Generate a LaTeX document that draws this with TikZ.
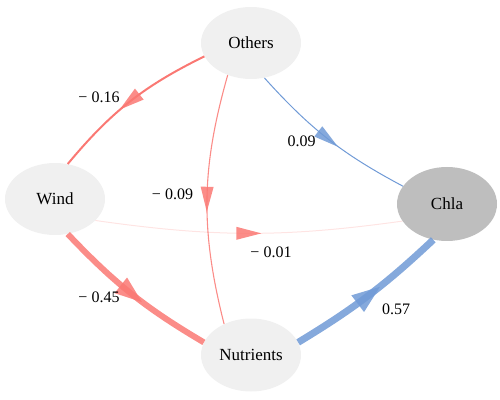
\documentclass[tikz,border=0pt]{standalone}
\usepackage{fontspec}
\setmainfont{Liberation Serif}
\newfontfamily\timesfont{Liberation Serif}
\usetikzlibrary{shapes.geometric,decorations.markings}
\definecolor{ered}{RGB}{250,120,115}
\definecolor{eblue}{RGB}{112,154,214}
\definecolor{nodegray}{RGB}{240,240,240}
\definecolor{chlagray}{RGB}{190,190,190}
\tikzset{
  var/.style={ellipse, fill=nodegray, minimum width=100pt, minimum height=72pt, inner sep=0pt, font=\timesfont\fontsize{17}{20}\selectfont},
  coef/.style={font=\timesfont\fontsize{16}{19}\selectfont, inner sep=0pt},
  midtri/.style n args={3}{postaction={decorate}, decoration={markings, mark=at position 0.5 with {\fill[#1, fill opacity=0.85, line join=round] (#2,0) -- (-#2,#3) -- (-#2,-#3) -- cycle;}}},
}
\begin{document}
\begin{tikzpicture}[x=1pt,y=1pt]
\useasboundingbox (0,0) rectangle (500,399);
\node[var] (o) at (251,356) {Others};
\node[var] (w) at (55,200) {Wind};
\node[var, fill=chlagray, minimum height=74pt] (c) at (447,195) {Chla};
\node[var, minimum height=73pt] (n) at (251,44) {Nutrients};
\draw[ered, line width=2pt, midtri={ered}{12.5pt}{7pt}] (o.196) to[bend right=12] (w.70);
\draw[ered, line width=1.1pt, draw opacity=0.85, midtri={ered}{12.5pt}{6.5pt}] (o.234) to[bend right=15] (n.131);
\draw[eblue, line width=1pt, midtri={eblue}{12.5pt}{6.5pt}] (o.291) to[bend right=10] (c.158);
\draw[ered, line width=1pt, draw opacity=0.2, midtri={ered}{12.5pt}{6.5pt}] (w.332) to[bend right=8] (c.201);
\draw[ered, line width=6pt, draw opacity=0.85, midtri={ered}{13.5pt}{10pt}] (w.290) to[bend right=8] (n.165);
\draw[eblue, line width=7pt, draw opacity=0.85, midtri={eblue}{14pt}{10.5pt}] (n.15) to[bend right=6] (c.249);
\node[coef] (l1) at (99,302) {− 0.16};
\node[coef] (l2) at (172.5,205) {− 0.09};
\node[coef] (l3) at (301.5,258) {0.09};
\node[coef] (l4) at (271,147) {− 0.01};
\node[coef] (l5) at (99,102) {− 0.45};
\node[coef] (l6) at (396,90) {0.57};
\end{tikzpicture}
\end{document}
